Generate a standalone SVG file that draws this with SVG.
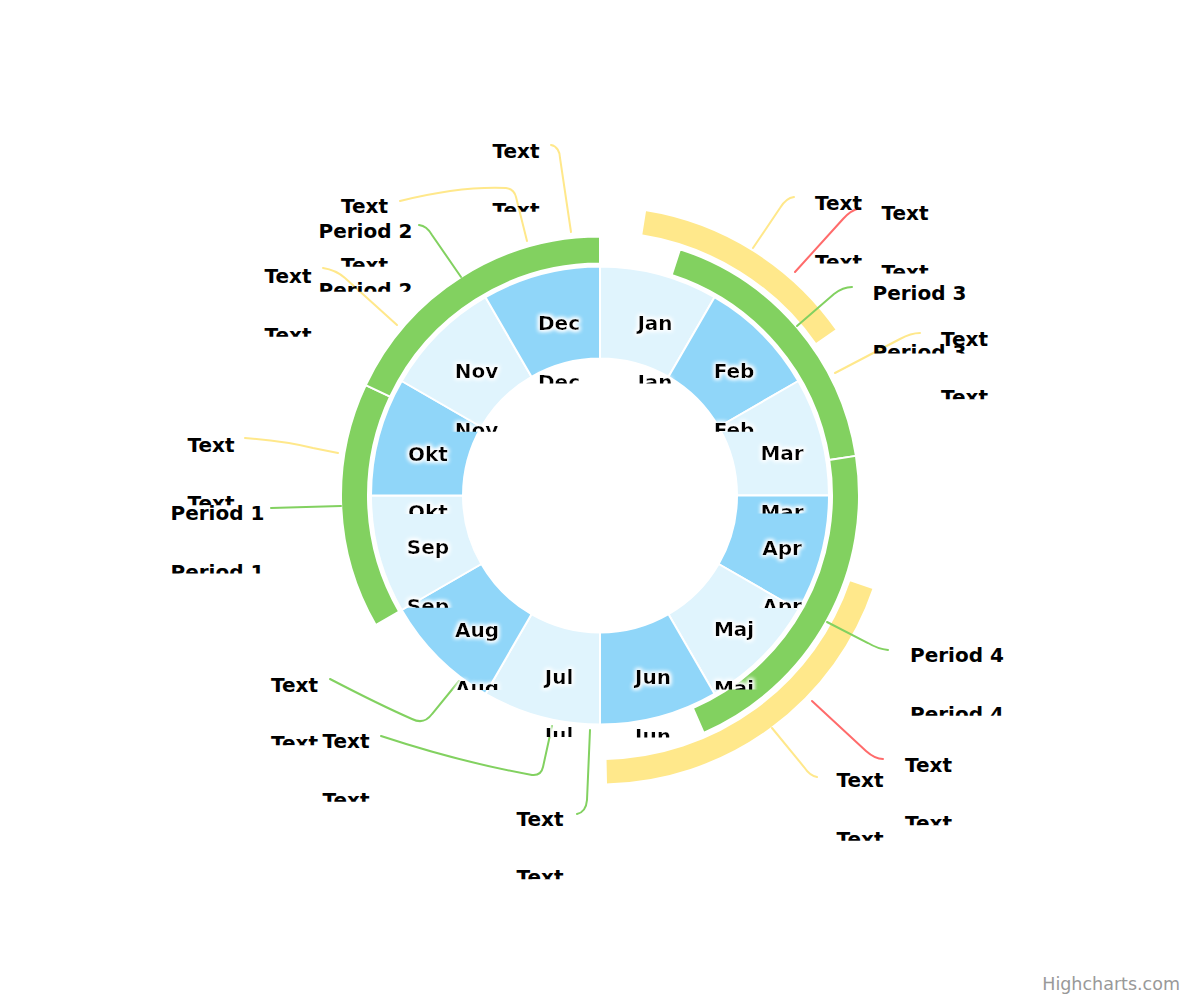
<svg xmlns="http://www.w3.org/2000/svg" width="1200" height="1000" viewBox="0 0 1200 1000">
<style>
.s{stroke:#fff;stroke-width:2;stroke-linejoin:round}
.mL{fill:#e0f4fd}
.mD{fill:#90d6f9}
.g{fill:#82d160}
.y{fill:#ffe88b}
.c{fill:none;stroke-width:2;stroke-linecap:round}
.cg{stroke:#82d160}
.cy{stroke:#ffe88b}
.cr{stroke:#ff6b6b}
.t{font-family:"DejaVu Sans","Noto Sans",sans-serif;font-size:20px;font-weight:bold;fill:#000}
.m{text-anchor:middle;filter:url(#glow)}
.cred{font-family:"DejaVu Sans","Noto Sans",sans-serif;font-size:17.5px;fill:#999;text-anchor:end}
</style>
<defs>
<filter id="glow" x="-30%" y="-40%" width="160%" height="180%">
<feMorphology in="SourceAlpha" operator="dilate" radius="1" result="d"/>
<feGaussianBlur in="d" stdDeviation="2" result="b"/>
<feFlood flood-color="#ffffff"/>
<feComposite in2="b" operator="in" result="w"/>
<feMerge><feMergeNode in="w"/><feMergeNode in="w"/><feMergeNode in="SourceGraphic"/></feMerge>
</filter>
<clipPath id="cut" clipPathUnits="userSpaceOnUse"><rect x="-200" y="30" width="400" height="23.5"/></clipPath>
</defs>
<rect width="1200" height="1000" fill="#fff"/>

<g id="months">
<path id="s-jan" class="s mL" d="M600,266.5 A229,229 0 0 1 714.5,297.19 L668.5,376.86 A137,137 0 0 0 600,358.5 Z"/>
<path id="s-feb" class="s mD" d="M714.5,297.19 A229,229 0 0 1 798.31,381 L718.64,427 A137,137 0 0 0 668.5,376.86 Z"/>
<path id="s-mar" class="s mL" d="M798.31,381 A229,229 0 0 1 829,495.5 L737,495.5 A137,137 0 0 0 718.64,427 Z"/>
<path id="s-apr" class="s mD" d="M829,495.5 A229,229 0 0 1 798.31,610 L718.64,564 A137,137 0 0 0 737,495.5 Z"/>
<path id="s-maj" class="s mL" d="M798.31,610 A229,229 0 0 1 714.5,693.81 L668.5,614.14 A137,137 0 0 0 718.64,564 Z"/>
<path id="s-jun" class="s mD" d="M714.5,693.81 A229,229 0 0 1 600,724.5 L600,632.5 A137,137 0 0 0 668.5,614.14 Z"/>
<path id="s-jul" class="s mL" d="M600,724.5 A229,229 0 0 1 485.5,693.81 L531.5,614.14 A137,137 0 0 0 600,632.5 Z"/>
<path id="s-aug" class="s mD" d="M485.5,693.81 A229,229 0 0 1 401.69,610 L481.36,564 A137,137 0 0 0 531.5,614.14 Z"/>
<path id="s-sep" class="s mL" d="M401.69,610 A229,229 0 0 1 371,495.5 L463,495.5 A137,137 0 0 0 481.36,564 Z"/>
<path id="s-okt" class="s mD" d="M371,495.5 A229,229 0 0 1 401.69,381 L481.36,427 A137,137 0 0 0 463,495.5 Z"/>
<path id="s-nov" class="s mL" d="M401.69,381 A229,229 0 0 1 485.5,297.19 L531.5,376.86 A137,137 0 0 0 481.36,427 Z"/>
<path id="s-dec" class="s mD" d="M485.5,297.19 A229,229 0 0 1 600,266.5 L600,358.5 A137,137 0 0 0 531.5,376.86 Z"/>
</g>

<g id="periods">
<path id="p3" class="s g" d="M680.04,249.18 A259,259 0 0 1 855.95,455.88 L829.27,460.01 A232,232 0 0 0 671.69,274.85 Z"/>
<path id="p4" class="s g" d="M855.95,455.88 A259,259 0 0 1 703.69,732.84 L692.88,708.1 A232,232 0 0 0 829.27,460.01 Z"/>
<path id="p1" class="s g" d="M375.7,625 A259,259 0 0 1 365.65,385.22 L390.08,396.72 A232,232 0 0 0 399.08,611.5 Z"/>
<path id="p2" class="s g" d="M365.65,385.22 A259,259 0 0 1 600,236.5 L600,263.5 A232,232 0 0 0 390.08,396.72 Z"/>
</g>

<g id="events">
<path id="y1" class="s y" d="M645.21,210.06 A289,289 0 0 1 836.73,329.74 L815.85,344.36 A263.5,263.5 0 0 0 641.22,235.24 Z"/>
<path id="y2" class="s y" d="M873.74,588.18 A289,289 0 0 1 606.05,784.44 L605.52,758.94 A263.5,263.5 0 0 0 849.59,580 Z"/>
</g>

<g id="connectors">
<path class="c cy" d="M551,145 C557,146 560,152 560,158 L571,232"/>
<path class="c cy" d="M400,201 Q460,186 506,188 Q514,189 516,197 L527,241"/>
<path class="c cg" d="M419,225 Q427,226 432,235 L461,277"/>
<path class="c cy" d="M323,268 Q336,270 345,278 L397,325"/>
<path class="c cy" d="M245,438 Q285,441 313,448 L338,453"/>
<path class="c cg" d="M271,508 L341,506"/>
<path class="c cg" d="M330,679 Q380,705 412,719 Q424,725 432,714 L459,681"/>
<path class="c cg" d="M381,736 Q460,762 532,775 Q541,776 543,767 L552,726"/>
<path class="c cg" d="M577,814 Q586,812 587,800 L590,730"/>
<path class="c cy" d="M817,777 Q810,776 804,767 L772,728"/>
<path class="c cr" d="M883,759 Q875,759 866,751 L812,701"/>
<path class="c cg" d="M888,650 Q878,649 868,643 L827,622"/>
<path class="c cy" d="M794,197 Q786,198 780,208 L753,248"/>
<path class="c cr" d="M860,208 Q851,210 843,219 L795,272"/>
<path class="c cg" d="M852,287 Q843,287 834,294 L797,326"/>
<path class="c cy" d="M920,333 Q911,333 900,339 L835,373"/>
</g>

<g id="month-labels" class="t">
<g id="l-jan" transform="translate(655,330)"><text class="m">Jan</text><text class="m" y="58.5" clip-path="url(#cut)">Jan</text></g>
<g id="l-feb" transform="translate(734,378.3)"><text class="m">Feb</text><text class="m" y="58.5" clip-path="url(#cut)">Feb</text></g>
<g id="l-mar" transform="translate(782,460)"><text class="m">Mar</text><text class="m" y="58.5" clip-path="url(#cut)">Mar</text></g>
<g id="l-apr" transform="translate(782,554.5)"><text class="m">Apr</text><text class="m" y="58.5" clip-path="url(#cut)">Apr</text></g>
<g id="l-maj" transform="translate(734,636)"><text class="m">Maj</text><text class="m" y="58.5" clip-path="url(#cut)">Maj</text></g>
<g id="l-jun" transform="translate(653,684)"><text class="m">Jun</text><text class="m" y="58.5" clip-path="url(#cut)">Jun</text></g>
<g id="l-jul" transform="translate(559,683.5)"><text class="m">Jul</text><text class="m" y="58.5" clip-path="url(#cut)">Jul</text></g>
<g id="l-aug" transform="translate(477,636.5)"><text class="m">Aug</text><text class="m" y="58.5" clip-path="url(#cut)">Aug</text></g>
<g id="l-sep" transform="translate(428,554.2)"><text class="m">Sep</text><text class="m" y="58.5" clip-path="url(#cut)">Sep</text></g>
<g id="l-okt" transform="translate(428,460.5)"><text class="m">Okt</text><text class="m" y="58.5" clip-path="url(#cut)">Okt</text></g>
<g id="l-nov" transform="translate(476.5,378.3)"><text class="m">Nov</text><text class="m" y="58.5" clip-path="url(#cut)">Nov</text></g>
<g id="l-dec" transform="translate(559,330)"><text class="m">Dec</text><text class="m" y="58.5" clip-path="url(#cut)">Dec</text></g>
</g>

<g id="outer-labels" class="t">
<g id="lab-a" transform="translate(492.5,158.3)"><text>Text</text><text y="58.5" clip-path="url(#cut)">Text</text></g>
<g id="lab-b" transform="translate(341,213.3)"><text>Text</text><text y="58.5" clip-path="url(#cut)">Text</text></g>
<g id="lab-c" transform="translate(318.5,238.3)"><text>Period 2</text><text y="58.5" clip-path="url(#cut)">Period 2</text></g>
<g id="lab-d" transform="translate(264.5,283.3)"><text>Text</text><text y="58.5" clip-path="url(#cut)">Text</text></g>
<g id="lab-e" transform="translate(187.5,451.7)"><text>Text</text><text y="58.5" clip-path="url(#cut)">Text</text></g>
<g id="lab-f" transform="translate(170.5,520)"><text>Period 1</text><text y="58.5" clip-path="url(#cut)">Period 1</text></g>
<g id="lab-g" transform="translate(271,691.7)"><text>Text</text><text y="58.5" clip-path="url(#cut)">Text</text></g>
<g id="lab-h" transform="translate(322.5,748.3)"><text>Text</text><text y="58.5" clip-path="url(#cut)">Text</text></g>
<g id="lab-i" transform="translate(516.5,825.7)"><text>Text</text><text y="58.5" clip-path="url(#cut)">Text</text></g>
<g id="lab-j" transform="translate(836.5,787.3)"><text>Text</text><text y="58.5" clip-path="url(#cut)">Text</text></g>
<g id="lab-k" transform="translate(905,771.7)"><text>Text</text><text y="58.5" clip-path="url(#cut)">Text</text></g>
<g id="lab-l" transform="translate(910,662.3)"><text>Period 4</text><text y="58.5" clip-path="url(#cut)">Period 4</text></g>
<g id="lab-m" transform="translate(815,210)"><text>Text</text><text y="58.5" clip-path="url(#cut)">Text</text></g>
<g id="lab-n" transform="translate(881.5,220)"><text>Text</text><text y="58.5" clip-path="url(#cut)">Text</text></g>
<g id="lab-o" transform="translate(872.5,300)"><text>Period 3</text><text y="58.5" clip-path="url(#cut)">Period 3</text></g>
<g id="lab-p" transform="translate(941,345.7)"><text>Text</text><text y="58.5" clip-path="url(#cut)">Text</text></g>
</g>

<text class="cred" x="1180" y="990">Highcharts.com</text>
</svg>
